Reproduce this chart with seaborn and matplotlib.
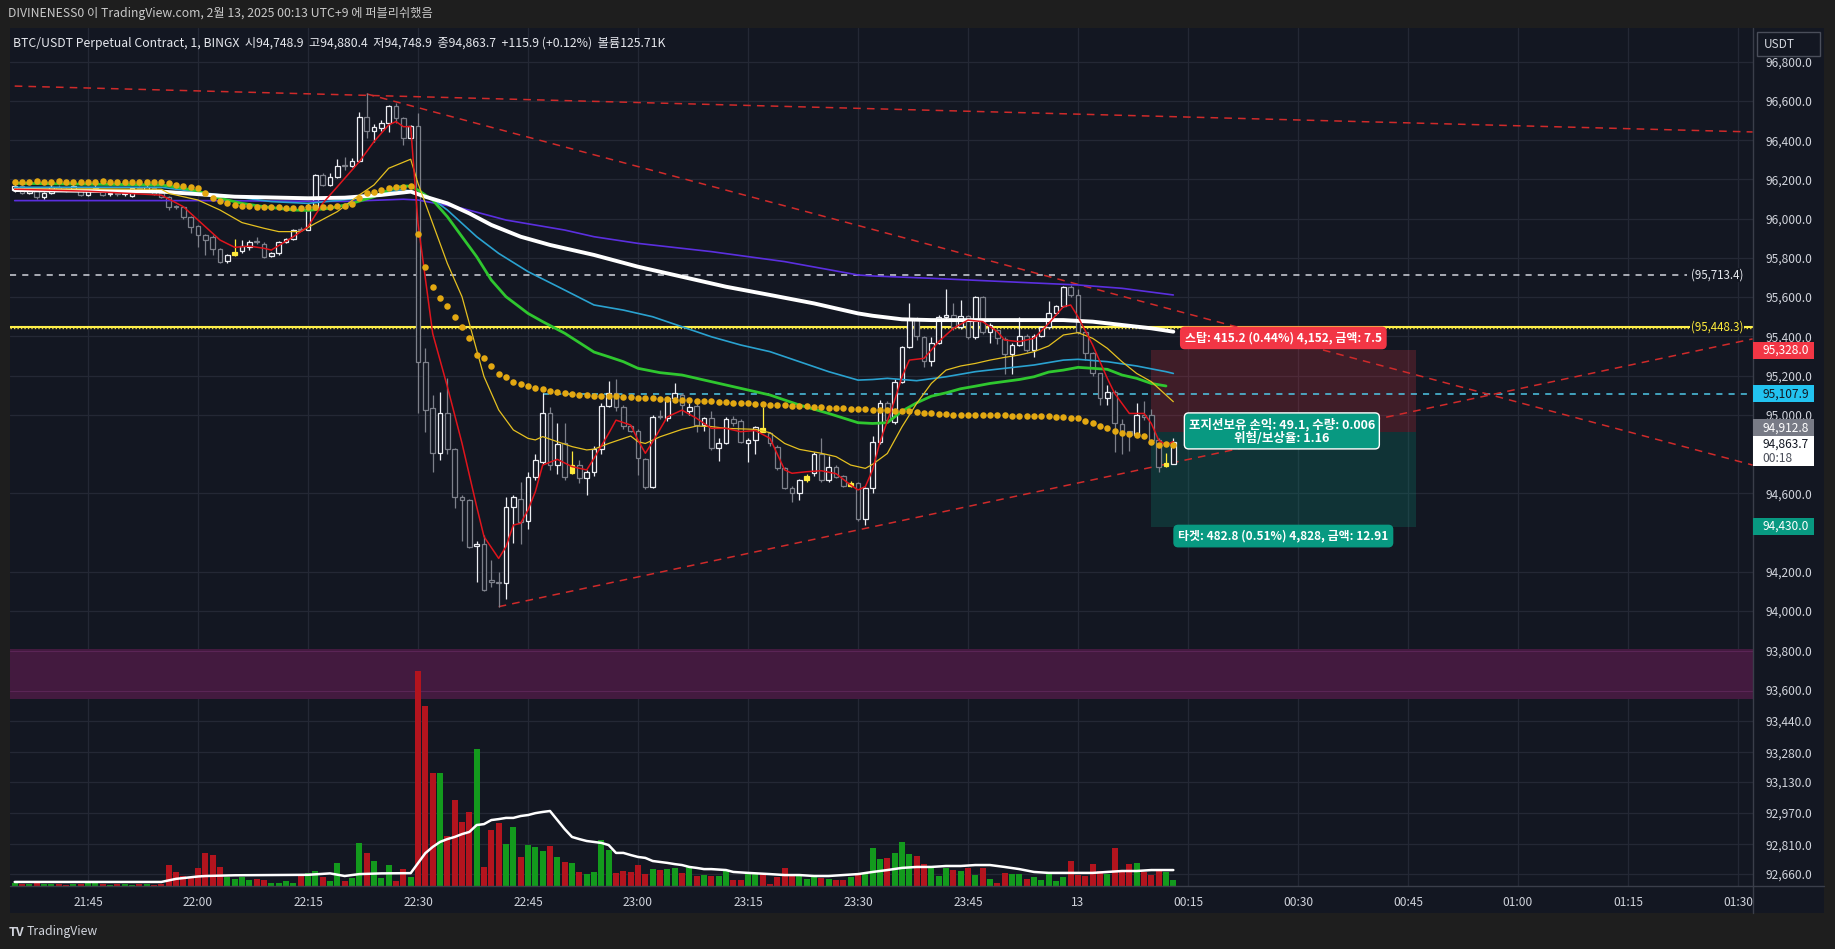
import numpy as np
import matplotlib
matplotlib.use("Agg")
import matplotlib.pyplot as plt
import seaborn as sns
from matplotlib.patches import Rectangle
from matplotlib.lines import Line2D

# ---------------- data (minutes since 21:30) ----------------
t_start, t_end = 5, 163
O = [96146,96165,96133,96140,96109,96129,96160,96148,96146,96150,
     96121,96150,96143,96125,96128,96124,96116,96155,96146,96155,
     96129,96112,96061,96061,96010,95964,95917,95908,95844,95784,
     95815,95835,95857,95883,95871,95810,95823,95879,95896,95945,
     95942,96053,96223,96172,96211,96274,96269,96294,96517,96449,
     96461,96490,96576,96512,96410,96472,95271,95033,94804,95011,
     94824,94583,94566,94330,94340,94160,94150,94144,94532,94570,
     94460,94681,94762,95011,94745,94855,94702,94745,94677,94710,
     94824,95047,95109,95038,94943,94919,94773,94630,94992,94982,
     95084,95100,95021,95045,94948,94982,94829,94855,94977,94970,
     94858,94872,94935,94905,94838,94727,94625,94603,94668,94702,
     94800,94668,94736,94688,94637,94650,94467,94625,94863,95062,
     94965,95169,95344,95487,95395,95276,95364,95500,95510,95449,
     95504,95395,95599,95424,95432,95385,95310,95356,95401,95330,
     95402,95449,95517,95554,95650,95611,95424,95313,95211,95084,
     95118,94953,94919,94897,94999,94999,94871,94740,94748.9]
H = [96180,96170,96150,96145,96135,96185,96170,96155,96178,96150,
     96150,96175,96150,96135,96135,96130,96160,96165,96170,96165,
     96135,96115,96070,96065,96015,95970,95920,95915,95850,95820,
     95895,95891,95891,95908,95880,95830,95885,95900,95948,95955,
     96078,96230,96235,96231,96304,96316,96308,96546,96639,96481,
     96503,96580,96588,96520,96480,96537,95340,95100,95118,95186,
     94830,94590,94570,94355,94385,94260,94200,94580,94590,94660,
     94710,94800,95110,95040,94960,94960,94815,94770,94720,94840,
     95060,95170,95185,95050,94950,94930,94780,95000,95025,95090,
     95163,95110,95060,95060,94990,95020,94880,94990,94995,94980,
     94880,94945,95040,94910,94845,94735,94635,94675,94700,94810,
     94880,94790,94745,94695,94665,94660,94630,94890,95075,95070,
     95185,95350,95572,95500,95400,95395,95510,95640,95570,95585,
     95510,95605,95605,95470,95440,95395,95365,95500,95410,95410,
     95455,95580,95560,95655,95660,95640,95430,95320,95215,95150,
     95125,94980,94920,95060,95070,95030,94880,94805,94880.4]
L = [96138,96125,96125,96100,96100,96125,96140,96135,96140,96115,
     96115,96140,96115,96118,96118,96115,96110,96145,96140,96120,
     96105,96044,96050,96000,95925,95857,95815,95815,95772,95775,
     95812,95827,95840,95870,95800,95805,95815,95875,95890,95935,
     95940,96045,96165,96165,96205,96248,96265,96290,96410,96389,
     96449,96444,96486,96376,96400,95008,94914,94711,94770,94800,
     94527,94357,94320,94150,94100,94120,94022,94060,94345,94340,
     94420,94670,94750,94720,94700,94670,94696,94650,94590,94690,
     94800,95040,95020,94930,94910,94693,94620,94625,94980,94970,
     95075,95000,95000,94910,94915,94820,94765,94850,94945,94855,
     94760,94800,94910,94840,94720,94620,94554,94565,94660,94690,
     94660,94660,94680,94630,94630,94460,94440,94600,94850,94965,
     94955,95160,95340,95380,95245,95250,95360,95490,95430,95440,
     95385,95385,95410,95365,95360,95210,95210,95350,95320,95295,
     95395,95440,95510,95548,95600,95410,95280,95200,95050,95050,
     94812,94800,94815,94890,94975,94850,94710,94735,94748.9]
C = [96167,96133,96140,96109,96129,96163,96150,96142,96167,96121,
     96143,96155,96121,96128,96124,96126,96155,96150,96163,96126,
     96112,96061,96058,96010,95959,95917,95890,95844,95781,95815,
     95832,95861,95883,95879,95806,95823,95879,95896,95942,95940,
     96049,96223,96172,96214,96270,96268,96294,96517,96449,96469,
     96490,96576,96512,96410,96473,95271,95025,94804,95008,94824,
     94583,94566,94328,94340,94107,94150,94144,94532,94583,94455,
     94681,94770,95011,94745,94851,94685,94745,94677,94710,94824,
     95047,95109,95038,94943,94919,94778,94630,94990,94987,95084,
     95109,95050,95038,94948,94982,94829,94855,94977,94956,94863,
     94872,94939,94914,94855,94727,94625,94603,94668,94690,94800,
     94668,94736,94685,94637,94650,94467,94625,94863,95062,94973,
     95169,95344,95487,95402,95276,95364,95500,95510,95449,95504,
     95395,95599,95424,95458,95390,95310,95356,95401,95330,95402,
     95449,95517,95554,95650,95611,95424,95313,95211,95084,95118,
     94956,94919,94897,94999,94990,94871,94735,94752,94863.7]
yellow_bars = [35, 81, 107, 113, 119, 162]

volume_k = [60,45,40,60,45,40,45,25,40,45,85,60,40,25,45,40,25,45,40,25,45,
            440,295,210,170,380,690,650,400,190,150,190,125,150,125,65,65,105,65,230,275,315,190,105,485,105,170,900,690,525,170,440,105,355,190,
            4515,3780,2375,2375,1050,1805,1345,1555,2875,400,1175,1325,880,1240,610,860,820,735,840,610,505,485,295,250,295,
            965,755,275,315,295,440,250,355,335,355,380,275,400,210,230,210,210,315,125,125,275,275,275,40,190,380,230,250,150,190,170,150,125,125,190,250,275,800,565,590,695,925,
            670,630,460,380,210,380,335,315,380,230,380,150,65,275,250,250,150,190,125,275,105,190,525,230,210,460,315,250,800,335,460,485,295,230,355,295,126]
vma_t = [5,25,27,30,31,35,40,45,48,50,52,55,59,60,61,62,63,64,65,66,67,68,69,70,71,72,73,74,75,76,77,78,79,80,81,82,83,84,85,86,87,88,89,90,91,92,93,94,95,96,97,98,99,100,102,103,105,108,110,112,114,116,118,120,122,124,126,128,130,132,134,136,138,140,142,144,146,148,150,152,154,156,158,160,163]
vma_v = [85,85,150,200,210,225,230,235,265,210,250,265,270,480,690,820,925,985,1030,1090,1135,1280,1300,1385,1405,1430,1430,1470,1490,1530,1555,1575,1385,1195,1030,985,945,925,905,860,695,695,650,610,590,525,505,485,460,440,400,380,355,355,335,295,275,250,230,230,210,210,230,250,295,335,380,400,400,420,420,440,440,400,355,295,275,275,275,275,295,315,315,335,335]

red_t = [5,10,15,20,25,28,31,33,35,37,39,40,43,45,47,49,51,52,54,56,57,58,59,60,62,64,66,68,69,71,72,73,74,75,76,77,79,81,83,84,86,87,89,90,91,92,94,96,98,100,102,104,106,108,110,111,113,115,117,119,120,121,122,123,125,126,127,129,131,133,135,137,139,140,142,144,146,148,149,150,152,154,155,157,159,160,161,162,163]
red_p = [96150,96145,96140,96130,96120,96061,95959,95891,95854,95860,95849,95840,95908,95959,96078,96163,96248,96291,96393,96478,96495,96469,96469,95976,95415,95144,94855,94532,94379,94268,94328,94438,94447,94515,94608,94744,94773,94736,94719,94778,94905,94973,94948,94871,94804,94863,94990,95024,94982,94931,94931,94914,94920,94880,94719,94702,94710,94715,94700,94642,94617,94634,94720,94863,95075,95194,95279,95288,95373,95441,95483,95475,95424,95381,95373,95390,95466,95551,95560,95500,95356,95186,95109,95007,95007,94956,94871,94846,94863]
yel_t = [5,15,25,26,30,33,36,39,41,44,46,49,52,54,56,59,60,62,64,66,68,69,71,73,75,76,77,79,81,83,84,86,89,90,91,93,96,98,100,102,106,108,110,112,115,117,119,121,122,124,126,128,130,132,134,136,138,140,142,144,146,148,150,152,154,156,158,160,162,163]
yel_p = [96150,96152,96150,96129,96095,96044,95980,95951,95934,95934,95976,96036,96121,96172,96257,96303,96180,95976,95772,95602,95330,95195,95025,94923,94880,94872,94889,94863,94838,94821,94825,94854,94892,94863,94854,94888,94926,94943,94940,94931,94926,94909,94854,94824,94804,94787,94744,94727,94748,94803,94939,95058,95160,95228,95249,95262,95279,95293,95305,95322,95351,95407,95419,95390,95339,95271,95211,95169,95101,95067]
grn_t = [5,25,28,30,33,36,39,43,45,48,51,54,56,58,59,60,62,64,66,68,70,72,75,77,80,84,86,88,90,93,96,100,104,108,112,116,120,122,124,126,128,130,132,134,136,138,140,142,144,146,148,150,152,154,156,158,160,162]
grn_p = [96180,96172,96155,96140,96104,96078,96061,96044,96042,96053,96078,96112,96146,96167,96165,96146,96095,96010,95908,95806,95687,95602,95517,95475,95416,95320,95296,95271,95237,95215,95203,95169,95135,95101,95050,95007,94960,94956,94960,95019,95061,95095,95112,95133,95146,95160,95170,95180,95194,95218,95228,95242,95237,95232,95203,95186,95160,95147]
cyn_t = [5,25,40,45,52,58,60,62,64,66,68,71,75,80,84,88,92,96,100,104,108,112,116,120,122,124,128,132,136,140,144,148,150,154,158,162,163]
cyn_p = [96160,96160,96087,96078,96104,96150,96129,96100,96044,95976,95908,95823,95730,95636,95560,95534,95500,95449,95398,95356,95322,95271,95220,95177,95180,95186,95174,95194,95220,95237,95254,95279,95283,95271,95249,95220,95211]
wht_t = [5,25,35,45,50,55,59,61,64,67,70,74,78,84,90,96,102,108,114,120,122,126,130,136,142,148,152,156,160,163]
wht_p = [96146,96138,96112,96104,96107,96121,96138,96112,96078,96027,95968,95908,95866,95815,95755,95704,95653,95611,95568,95517,95505,95487,95483,95483,95483,95483,95475,95458,95441,95424]
pur_t = [5,30,50,58,60,66,72,80,84,90,100,110,120,122,130,140,150,156,163]
pur_p = [96092,96092,96088,96099,96095,96053,95993,95942,95908,95874,95832,95781,95713,95708,95696,95679,95662,95645,95611]
dots_p = [96186,96189,96189,96190,96189,96189,96190,96189,96189,96188,96189,96189,96190,96189,96189,96189,96188,96189,96189,96189,96188,
          96180,96172,96167,96160,96155,96130,96104,96090,96078,96070,96066,96063,96061,96059,96058,96057,96056,96056,96056,96057,96060,96061,96061,96063,96065,96075,96104,96129,96134,96146,96155,96160,96163,96167,
          95922,95752,95653,95594,95557,95497,95450,95390,95305,95288,95249,95207,95191,95169,95156,95147,95135,95132,95123,95118,95113,95106,95101,95100,95098,
          95097,95095,95094,95093,95090,95088,95087,95084,95083,95080,95078,95077,95074,95073,95070,95068,95067,95064,95062,95061,95058,95056,95055,95052,95050,95049,95046,95044,95043,95040,95038,95037,95035,95034,95032,95030,95028,95027,95026,95024,95022,95021,
          95018,95014,95010,95007,95005,95003,95001,95000,94999,94998,94998,94997,94997,94997,94996,94996,94995,94994,94994,94992,94990,94987,94985,94982,94970,94956,94943,94931,94920,94905,94903,94897,94893,94863,94846,94851,94846]

# drawings
hline_white = 95713.4
hline_yellow = 95448.3
hline_cyan = 95107.9
cyan_from_t = 77
trend_t0 = [5, 53, 71]
trend_p0 = [96676, 96636, 94022]
trend_t1 = [242, 242, 242]
trend_p1 = [96442, 94744, 95387]
zone_low, zone_high = 93550, 93806
entry, stop, target = 94912.8, 95328.0, 94430.0
pos_t0, pos_t1 = 160, 196.1
last_price = 94863.7

y_ticks = [96800, 96600, 96400, 96200, 96000, 95800, 95600, 95400, 95200, 95000,
           94600, 94200, 94000, 93800, 93600, 93440, 93280, 93130, 92970, 92810, 92660]
x_ticks = list(range(15, 241, 15))
x_labels = ["21:45", "22:00", "22:15", "22:30", "22:45", "23:00", "23:15", "23:30",
            "23:45", "13", "00:15", "00:30", "00:45", "01:00", "01:15", "01:30"]

# ---------------- styling ----------------
sns.set_theme(style="dark")
plt.rcParams["font.family"] = ["Noto Sans CJK KR", "DejaVu Sans"]
plt.rcParams["axes.unicode_minus"] = False

BG = "#131722"
W, Hpx = 1835, 949
fig = plt.figure(figsize=(W / 100, Hpx / 100), dpi=100, facecolor="#1e1e1e")


def fx(px):
    return px / W


def fy(py):
    return 1 - py / Hpx


fig.patches.append(Rectangle((fx(10), fy(913)), fx(1824) - fx(10), (913 - 28) / Hpx,
                             transform=fig.transFigure, facecolor=BG, edgecolor="none", zorder=0))

rect = [fx(10), fy(886), (1753 - 10) / W, (886 - 28) / Hpx]
ax = fig.add_axes(rect, zorder=1)
ax.set_facecolor(BG)
axv = fig.add_axes(rect, sharex=ax, zorder=2)
axv.patch.set_alpha(0)

t = np.arange(t_start, t_end + 1)
O_a, H_a, L_a, C_a = map(np.array, (O, H, L, C))
assert len(t) == len(O) == len(H) == len(L) == len(C) == len(volume_k) == len(dots_p)
assert len(red_t) == len(red_p) and len(yel_t) == len(yel_p) and len(grn_t) == len(grn_p)
assert len(cyn_t) == len(cyn_p) and len(wht_t) == len(wht_p) and len(pur_t) == len(pur_p)
assert len(vma_t) == len(vma_v)

up = C_a >= O_a
is_yel = np.isin(t, yellow_bars)
edge = np.where(is_yel, "#ffeb3b", np.where(up, "#eceef3", "#7d808a"))
face = np.where(is_yel, "#ffeb3b", BG)

# grid
ax.set_yticks(y_ticks)
ax.set_yticklabels([f"{v:,.1f}" for v in y_ticks])
ax.set_xticks(x_ticks)
ax.set_xticklabels(x_labels)
ax.grid(True, color="#242835", linewidth=0.9)
ax.set_axisbelow(True)

# zone band
ax.axhspan(zone_low, zone_high, color="#431a3f", zorder=0.6, lw=0)
ax.axhline(zone_high - 10, color="#5a2555", lw=0.8, zorder=0.7)
ax.axhline(zone_low + 40, color="#5a2555", lw=0.8, zorder=0.7)

# position tool
ax.add_patch(Rectangle((pos_t0, entry), pos_t1 - pos_t0, stop - entry,
                       facecolor=(242 / 255, 54 / 255, 69 / 255, 0.2), edgecolor="none", zorder=1))
ax.add_patch(Rectangle((pos_t0, target), pos_t1 - pos_t0, entry - target,
                       facecolor=(8 / 255, 153 / 255, 129 / 255, 0.22), edgecolor="none", zorder=1))

# horizontal drawings
ax.hlines(hline_white, 4.3, 233.0, colors="#d1d4dc", linestyles=(0, (4, 4)), lw=1.1, zorder=1.5)
ax.hlines(hline_yellow, 4.3, 242.1, colors="#fff04a", lw=1.5, zorder=1.5)
ax.hlines(hline_yellow - 7, 4.3, 242.1, colors="#e8d840", linestyles=(0, (1, 1.5)), lw=1.0, zorder=1.5)
ax.hlines(hline_cyan, cyan_from_t, 242.1, colors="#4fc8e8", linestyles=(0, (4, 4)), lw=1.1, zorder=1.5)
ax.text(233.6, hline_white, "(95,713.4)", color="#e6e8ee", fontsize=8.3, va="center", ha="left",
        zorder=2, bbox=dict(facecolor=BG, edgecolor="none", pad=0.5))
ax.text(233.6, hline_yellow, "(95,448.3)", color="#ffeb3b", fontsize=8.3, va="center", ha="left",
        zorder=2, bbox=dict(facecolor=BG, edgecolor="none", pad=0.5))

# trend lines
for a0, p0, a1, p1 in zip(trend_t0, trend_p0, trend_t1, trend_p1):
    ax.plot([a0, a1], [p0, p1], color="#cf2a2a", lw=1.1, dashes=(5, 4), zorder=2)

# candles
ax.vlines(t, L_a, H_a, colors=edge, lw=0.9, zorder=3)
ax.bar(t, np.maximum(np.abs(C_a - O_a), 5), bottom=np.minimum(O_a, C_a), width=0.62,
       facecolor=face, edgecolor=edge, linewidth=0.9, zorder=3.2)

# moving averages
sns.lineplot(x=pur_t, y=pur_p, ax=ax, color="#5b2fe0", lw=1.2, zorder=4)
sns.lineplot(x=cyn_t, y=cyn_p, ax=ax, color="#2aa2d0", lw=1.2, zorder=4)
sns.lineplot(x=wht_t, y=wht_p, ax=ax, color="#ffffff", lw=2.8, zorder=4.2)
sns.lineplot(x=grn_t, y=grn_p, ax=ax, color="#2fc72f", lw=2.0, zorder=4.1)
sns.lineplot(x=yel_t, y=yel_p, ax=ax, color="#e5c020", lw=0.9, zorder=4.3)
sns.lineplot(x=red_t, y=red_p, ax=ax, color="#e0141c", lw=1.1, zorder=4.4)
sns.scatterplot(x=t, y=dots_p, ax=ax, color="#e3a812", s=22, linewidth=0, zorder=5)

# position labels
ax.text(178, 95392, "스탑: 415.2 (0.44%) 4,152, 금액: 7.5", color="white", fontsize=8.6,
        fontweight="bold", ha="center", va="center", zorder=7,
        bbox=dict(boxstyle="round,pad=0.35", facecolor="#f23645", edgecolor="#f23645"))
ax.text(177.8, 94918, "포지션보유 손익: 49.1, 수량: 0.006\n위험/보상율: 1.16", color="white", fontsize=9.0,
        fontweight="bold", ha="center", va="center", zorder=7, linespacing=1.05,
        bbox=dict(boxstyle="round,pad=0.35", facecolor="#089981", edgecolor="white", linewidth=1))
ax.text(178, 94382, "타겟: 482.8 (0.51%) 4,828, 금액: 12.91", color="white", fontsize=8.6,
        fontweight="bold", ha="center", va="center", zorder=7,
        bbox=dict(boxstyle="round,pad=0.35", facecolor="#089981", edgecolor="#089981"))

# volume
vcol = np.where(up, "#139a1d", "#b3141e")
axv.bar(t, volume_k, width=0.8, color=vcol, linewidth=0, zorder=2)
sns.lineplot(x=vma_t, y=vma_v, ax=axv, color="white", lw=1.8, zorder=3)
axv.set_ylim(0, 858 * 21)
axv.axis("off")

# axes limits and ticks
ax.set_xlim(4.36, 242.05)
ax.set_ylim(92598, 96972)
ax.set_xlabel("")
ax.set_ylabel("")
ax.yaxis.tick_right()
ax.tick_params(axis="y", length=0, pad=9, labelsize=8.6, labelcolor="#d1d4dc")
ax.tick_params(axis="x", length=0, pad=7, labelsize=8.6, labelcolor="#d1d4dc")
for s in ax.spines.values():
    s.set_visible(False)

# separators
fig.lines.append(Line2D([fx(1753), fx(1753)], [fy(28), fy(913)], transform=fig.transFigure,
                        color="#3a3e4a", lw=1, zorder=3))
fig.lines.append(Line2D([fx(10), fx(1824)], [fy(886), fy(886)], transform=fig.transFigure,
                        color="#3a3e4a", lw=1, zorder=3))

# price tags on the right axis
fig.canvas.draw()


def price_to_py(p):
    return Hpx - ax.transData.transform((0, p))[1]


def tag(ycen, text, bg, fg, h=17):
    fig.patches.append(Rectangle((fx(1753), fy(ycen + h / 2)), fx(1814) - fx(1753), h / Hpx,
                                 transform=fig.transFigure, facecolor=bg, edgecolor="none", zorder=5))
    fig.text(fx(1762), fy(ycen), text, color=fg, fontsize=8.6, va="center", ha="left", zorder=6)


tag(price_to_py(stop), f"{stop:,.1f}", "#f23645", "white")
tag(price_to_py(hline_cyan), f"{hline_cyan:,.1f}", "#22c3f0", "#131722")
y_entry = price_to_py(entry) - 4
tag(y_entry, f"{entry:,.1f}", "#787b86", "white")
yc = y_entry + 8.5 + 15
fig.patches.append(Rectangle((fx(1753), fy(yc + 15)), fx(1814) - fx(1753), 30 / Hpx,
                             transform=fig.transFigure, facecolor="white", edgecolor="none", zorder=5))
fig.text(fx(1762), fy(yc - 7), f"{last_price:,.1f}", color="#131722", fontsize=8.6, va="center", zorder=6)
fig.text(fx(1762), fy(yc + 7.5), "00:18", color="#4a4e59", fontsize=8.6, va="center", zorder=6)
tag(price_to_py(target), f"{target:,.1f}", "#089981", "white")

# USDT button
fig.patches.append(Rectangle((fx(1757), fy(56)), fx(1820) - fx(1757), 24 / Hpx, transform=fig.transFigure,
                             facecolor=BG, edgecolor="#4a4e5a", lw=1, zorder=5))
fig.text(fx(1764), fy(44), "USDT", color="#d1d4dc", fontsize=8.6, va="center", ha="left", zorder=6)

# header & legend texts
fig.text(fx(8), fy(14), "DIVINENESS0 이 TradingView.com, 2월 13, 2025 00:13 UTC+9 에 퍼블리쉬했음",
         color="#c8c8c8", fontsize=8.8, va="center", ha="left")
fig.text(fx(13), fy(43), "BTC/USDT Perpetual Contract, 1, BINGX  시94,748.9  고94,880.4  저94,748.9  "
         "종94,863.7  +115.9 (+0.12%)  볼륨125.71K", color="#e6e8ee", fontsize=8.8, va="center", ha="left",
         zorder=6)
fig.text(fx(9), fy(932), "TV", color="#d1d4dc", fontsize=9, fontweight="bold", va="center", ha="left")
fig.text(fx(27), fy(932), "TradingView", color="#d1d4dc", fontsize=8.8, va="center", ha="left")

fig.savefig("out.png", dpi=100, facecolor=fig.get_facecolor())
